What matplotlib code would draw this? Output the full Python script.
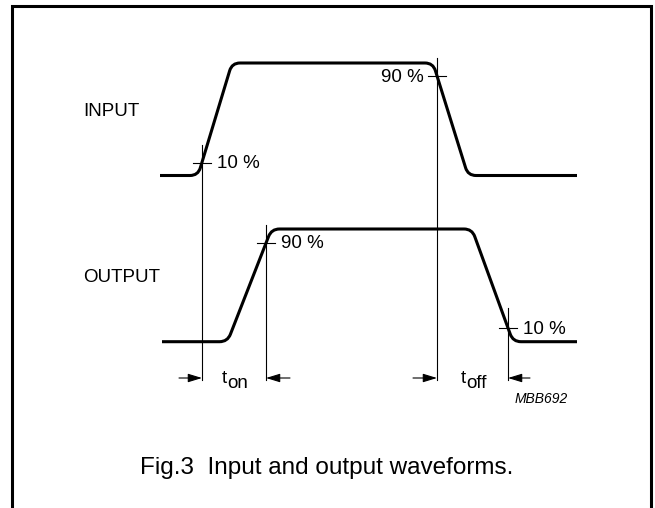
"""
Fig.3 Input and output waveforms — switching-time diagram.
"""
import matplotlib
matplotlib.use("Agg")
import matplotlib.pyplot as plt
from matplotlib.path import Path
import matplotlib.patches as mpatches
import numpy as np

plt.rcParams["font.family"] = ["Liberation Sans", "DejaVu Sans"]

# ---- data (figure pixel units, y pointing down) ----
input_x = [160, 198, 232, 433, 468, 577]
input_y = [175.5, 175.5, 63, 63, 175.5, 175.5]
output_x = [162, 227.5, 271.5, 472, 513, 577]
output_y = [341.7, 341.7, 229, 229, 341.7, 341.7]

# reference crossings: (x, y of tick, top of vertical line, label, label side)
marks_x = [202, 437, 266, 508]
marks_y = [163, 76, 243, 328]
marks_top = [145, 58, 225, 308]
marks_label = ["10 %", "90 %", "90 %", "10 %"]
marks_side = ["right", "left", "right", "right"]

CORNER_R = 8.0


def rounded_path(xs, ys, r):
    """折线 + 圆角（二次贝塞尔）。"""
    pts = np.column_stack([xs, ys]).astype(float)
    verts = [pts[0]]
    codes = [Path.MOVETO]
    for i in range(1, len(pts) - 1):
        p0, p1, p2 = pts[i - 1], pts[i], pts[i + 1]
        d1 = (p0 - p1) / np.linalg.norm(p0 - p1)
        d2 = (p2 - p1) / np.linalg.norm(p2 - p1)
        a = p1 + d1 * r
        b = p1 + d2 * r
        verts += [a, p1, b]
        codes += [Path.LINETO, Path.CURVE3, Path.CURVE3]
    verts.append(pts[-1])
    codes.append(Path.LINETO)
    return Path(verts, codes)


fig = plt.figure(figsize=(6.55, 5.08), dpi=100)
ax = fig.add_axes([0, 0, 1, 1])
ax.set_xlim(0, 655)
ax.set_ylim(508, 0)
ax.axis("off")

# 外框
ax.plot([12, 12, 651, 651], [508, 6, 6, 508], color="black", lw=2.2,
        solid_joinstyle="miter")

# 波形
for xs, ys in [(input_x, input_y), (output_x, output_y)]:
    ax.add_patch(mpatches.PathPatch(rounded_path(xs, ys, CORNER_R),
                                    facecolor="none", edgecolor="black",
                                    lw=2.2, capstyle="butt", zorder=3))

# 参考线 + 刻度 + 百分比
line_bottom = 380
for x, y, top, lab, side in zip(marks_x, marks_y, marks_top, marks_label, marks_side):
    ax.plot([x, x], [top, line_bottom], color="black", lw=0.8, zorder=2)
    ax.plot([x - 9, x + 9], [y, y], color="black", lw=0.8, zorder=2)
    if side == "right":
        ax.text(x + 15, y + 1, lab, fontsize=13.5, ha="left", va="center")
    else:
        ax.text(x - 13, y + 1, lab, fontsize=13.5, ha="right", va="center")

# 时间箭头
arrow_y = 378
arrows = [(179, 202), (290, 266), (413, 437), (530, 508)]
for x0, x1 in arrows:
    ax.add_patch(mpatches.FancyArrowPatch(
        (x0, arrow_y), (x1, arrow_y),
        arrowstyle="-|>,head_length=8.5,head_width=2.6",
        mutation_scale=1, lw=0.8, color="black",
        shrinkA=0, shrinkB=0, zorder=3))

ax.text(222, 383, "t", fontsize=13.5, ha="left", va="baseline")
ax.text(227.5, 388, "on", fontsize=13.5, ha="left", va="baseline")
ax.text(461, 383, "t", fontsize=13.5, ha="left", va="baseline")
ax.text(466.5, 388, "off", fontsize=13.5, ha="left", va="baseline")

ax.text(83, 112, "INPUT", fontsize=13.5, ha="left", va="center")
ax.text(83, 277, "OUTPUT", fontsize=13.5, ha="left", va="center")
ax.text(515, 399, "MBB692", fontsize=10, style="italic", ha="left", va="center")

ax.text(327, 468, "Fig.3  Input and output waveforms.", fontsize=17.5,
        ha="center", va="center")

fig.savefig("out.png", dpi=100)
plt.close(fig)
